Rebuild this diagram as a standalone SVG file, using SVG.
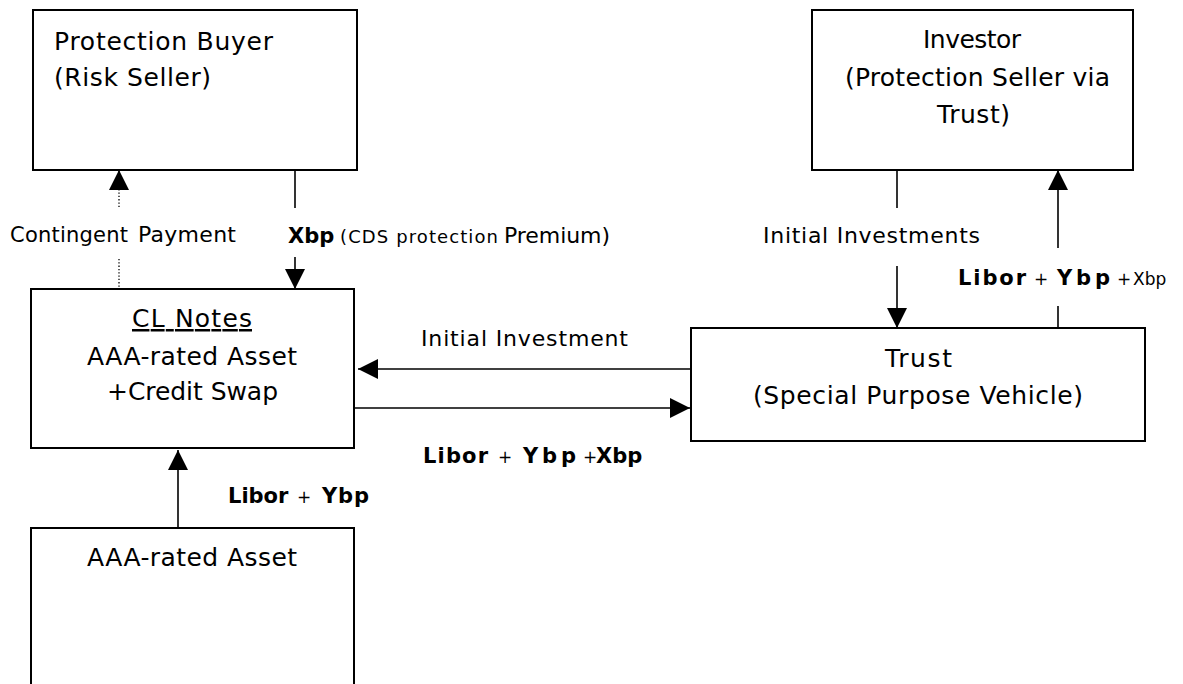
<svg xmlns="http://www.w3.org/2000/svg" width="1183" height="684" viewBox="0 0 1183 684">
  <style>
    .box { fill: #fff; stroke: #000; stroke-width: 2; }
    .t { font-family: "DejaVu Sans", "Liberation Sans", sans-serif; fill: #000; }
    .n { font-size: 25px; }
    .lbl { font-size: 22px; }
    .b { font-weight: bold; font-size: 21px; }
    .plus { font-size: 17px; }
    .sm { font-size: 18px; }
    .wire { stroke: #000; stroke-width: 1.6; fill: none; }
    .dot { stroke: #000; stroke-width: 1.3; fill: none; stroke-dasharray: 1.3 2; }
  </style>
  <defs>
    <marker id="head" viewBox="0 0 20 20" refX="20" refY="10" markerWidth="20" markerHeight="20" markerUnits="userSpaceOnUse" orient="auto">
      <path d="M0,0 L20,10 L0,20 z" fill="#000"/>
    </marker>
  </defs>
  <rect width="1183" height="684" fill="#fff"/>

  <g id="protection-buyer">
    <rect class="box" x="33" y="10" width="324" height="160"/>
    <text class="t n" x="54" y="50" textLength="219" lengthAdjust="spacing">Protection Buyer</text>
    <text class="t n" x="54" y="86" textLength="157" lengthAdjust="spacing">(Risk Seller)</text>
  </g>

  <g id="investor">
    <rect class="box" x="812" y="10" width="321" height="160"/>
    <text class="t n" x="923" y="48" textLength="98" lengthAdjust="spacing">Investor</text>
    <text class="t n" x="845" y="86" textLength="265" lengthAdjust="spacing">(Protection Seller via</text>
    <text class="t n" x="937" y="123" textLength="73" lengthAdjust="spacing">Trust)</text>
  </g>

  <g id="cl-notes">
    <rect class="box" x="31" y="289" width="323" height="159"/>
    <text class="t n" x="132" y="327" textLength="120" lengthAdjust="spacing" text-decoration="underline">CL Notes</text>
    <text class="t n" x="87" y="365" textLength="210" lengthAdjust="spacing">AAA-rated Asset</text>
    <text class="t n" x="107" y="400" textLength="171" lengthAdjust="spacing">+Credit Swap</text>
  </g>

  <g id="trust">
    <rect class="box" x="691" y="328" width="454" height="113"/>
    <text class="t n" x="885" y="367" textLength="67" lengthAdjust="spacing">Trust</text>
    <text class="t n" x="753" y="404" textLength="330" lengthAdjust="spacing">(Special Purpose Vehicle)</text>
  </g>

  <g id="aaa-asset">
    <rect class="box" x="31" y="528" width="323" height="180"/>
    <text class="t n" x="87" y="566" textLength="210" lengthAdjust="spacing">AAA-rated Asset</text>
  </g>

  <g id="connectors">
    <!-- contingent payment: dotted, up to protection buyer -->
    <line class="dot" x1="119" y1="290" x2="119" y2="257"/>
    <line class="dot" x1="119" y1="207" x2="119" y2="185"/>
    <line class="wire" x1="119" y1="190" x2="119" y2="170" marker-end="url(#head)"/>
    <!-- CDS premium: down to CL notes -->
    <line class="wire" x1="295" y1="170" x2="295" y2="208"/>
    <line class="wire" x1="295" y1="257" x2="295" y2="289" marker-end="url(#head)"/>
    <!-- asset coupon up to CL notes -->
    <line class="wire" x1="178" y1="528" x2="178" y2="450" marker-end="url(#head)"/>
    <!-- trust to CL notes -->
    <line class="wire" x1="691" y1="369" x2="358" y2="369" marker-end="url(#head)"/>
    <!-- CL notes to trust -->
    <line class="wire" x1="354" y1="408" x2="690" y2="408" marker-end="url(#head)"/>
    <!-- investor to trust -->
    <line class="wire" x1="897" y1="170" x2="897" y2="208"/>
    <line class="wire" x1="897" y1="266" x2="897" y2="328" marker-end="url(#head)"/>
    <!-- trust to investor -->
    <line class="wire" x1="1058" y1="328" x2="1058" y2="306"/>
    <line class="wire" x1="1058" y1="248" x2="1058" y2="170" marker-end="url(#head)"/>
  </g>

  <g id="labels">
    <text class="t" y="242"><tspan x="10" font-size="21" textLength="118" lengthAdjust="spacing">Contingent</tspan><tspan x="138" font-size="22" textLength="98" lengthAdjust="spacing">Payment</tspan></text>
    <text class="t" y="243"><tspan class="b" x="288" font-size="20">Xbp</tspan><tspan class="sm" x="340" textLength="158" lengthAdjust="spacing">(CDS protection</tspan><tspan x="504" font-size="22" textLength="106" lengthAdjust="spacing">Premium)</tspan></text>
    <text class="t lbl" x="763" y="243" textLength="217" lengthAdjust="spacing">Initial Investments</text>
    <text class="t" y="285"><tspan class="b" x="958" font-size="22" textLength="68" lengthAdjust="spacing">Libor</tspan><tspan class="plus" x="1034">+</tspan><tspan class="b" x="1057" font-size="23" textLength="53" lengthAdjust="spacing">Ybp</tspan><tspan class="plus" x="1117" font-size="15">+</tspan><tspan x="1133" font-size="17">Xbp</tspan></text>
    <text class="t lbl" x="421" y="346" textLength="207" lengthAdjust="spacing">Initial Investment</text>
    <text class="t" y="463"><tspan class="b" x="423" textLength="65" lengthAdjust="spacing">Libor</tspan><tspan class="plus" x="498">+</tspan><tspan class="b" x="523" font-size="22" textLength="53" lengthAdjust="spacing">Ybp</tspan><tspan class="plus" x="583">+</tspan><tspan class="b" x="596" font-size="20">Xbp</tspan></text>
    <text class="t" y="503"><tspan class="b" x="228" font-size="19">Libor</tspan><tspan class="plus" x="297">+</tspan><tspan class="b" x="322" font-size="20" textLength="47" lengthAdjust="spacing">Ybp</tspan></text>
  </g>
</svg>
